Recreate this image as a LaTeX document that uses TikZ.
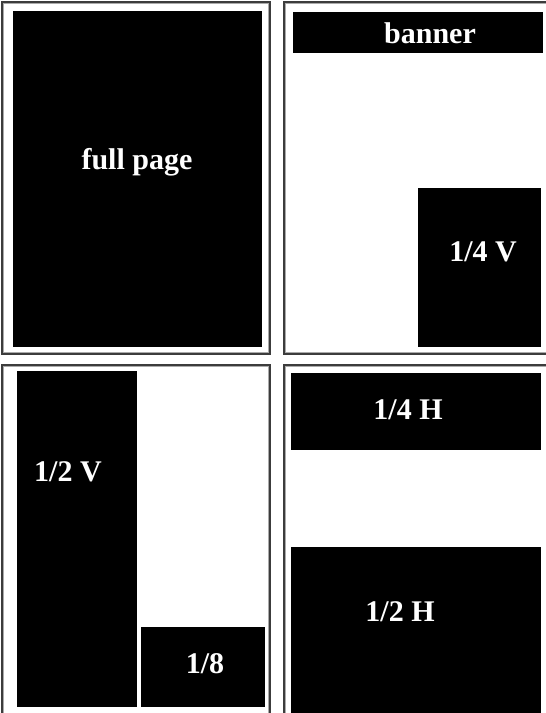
\documentclass[tikz,border=0pt]{standalone}
\usepackage{fontspec}
\setmainfont{Liberation Serif}
\begin{document}
\begin{tikzpicture}[x=1pt,y=-1pt,
  panelout/.style={draw={rgb,255:red,60;green,60;blue,60},line width=1.8pt},
  panelin/.style={draw={rgb,255:red,170;green,170;blue,170},line width=0.9pt},
  blk/.style={fill=black,draw=none},
  lbl/.style={text=white,font=\bfseries\fontsize{30}{34}\selectfont,inner sep=0pt}]
\useasboundingbox (0,0) rectangle (546,713);
% panels
\foreach \xa/\ya/\xb/\yb in {2/2/270/354, 284/2/560/354, 2/365/270/725, 284/365/560/725}{
  \draw[panelout] (\xa,\ya) rectangle (\xb,\yb);
  \draw[panelin] (\xa+1.6,\ya+1.6) rectangle (\xb-1.6,\yb-1.6);
}
% boxes
\fill[blk] (13,11) rectangle (262,347);
\fill[blk] (293,12) rectangle (543,53);
\fill[blk] (418,188) rectangle (541,347);
\fill[blk] (17,371) rectangle (137,707);
\fill[blk] (141,627) rectangle (265,707);
\fill[blk] (291,373) rectangle (541,450);
\fill[blk] (291,547) rectangle (541,714);
% labels
\node[lbl] (fp) at (137,162) {full page};
\node[lbl] (bn) at (430,33) {banner};
\node[lbl] (qv) at (483,252) {1/4 V};
\node[lbl] (hv) at (68,472) {1/2 V};
\node[lbl] (ei) at (205,664) {1/8};
\node[lbl] (qh) at (408,410) {1/4 H};
\node[lbl] (hh) at (400,612) {1/2 H};
\end{tikzpicture}
\end{document}
